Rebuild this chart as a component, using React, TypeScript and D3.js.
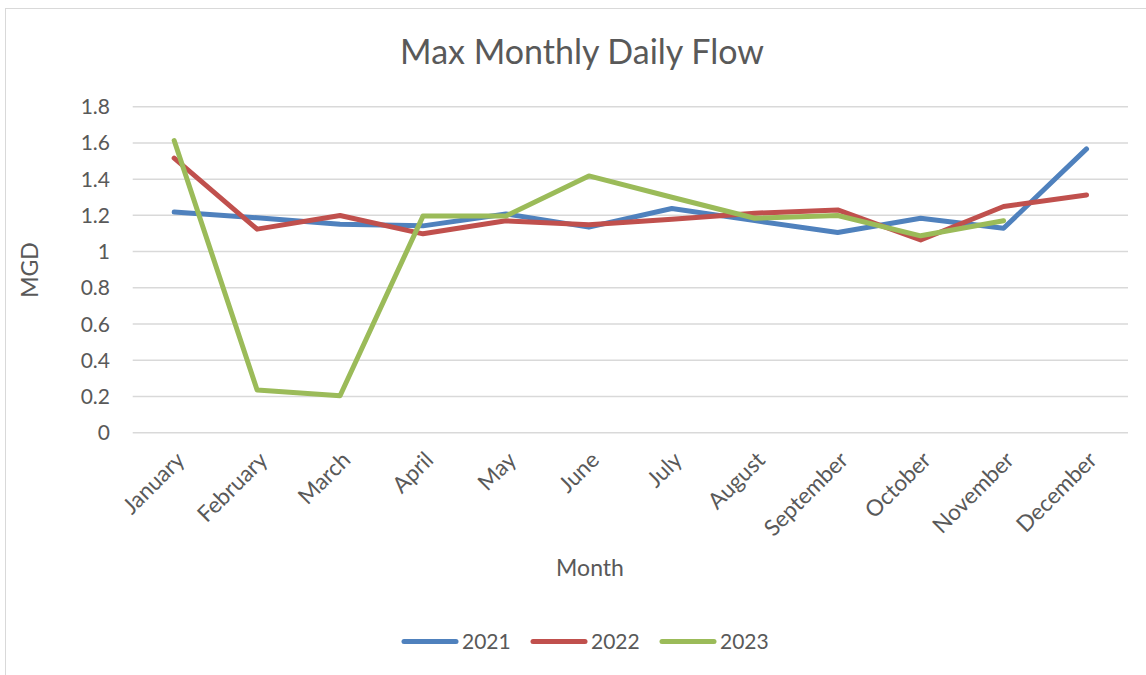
import React, { useEffect, useRef } from "react";
import * as d3 from "d3";

const months = ["January", "February", "March", "April", "May", "June", "July", "August", "September", "October", "November", "December"];
const flow2021 = [1.218, 1.187, 1.151, 1.142, 1.208, 1.135, 1.238, 1.171, 1.105, 1.184, 1.129, 1.567];
const flow2022 = [1.516, 1.124, 1.199, 1.098, 1.170, 1.148, 1.179, 1.212, 1.230, 1.064, 1.249, 1.313];
const flow2023: (number | null)[] = [1.613, 0.236, 0.204, 1.196, 1.197, 1.418, 1.300, 1.184, 1.199, 1.087, 1.170, null];
const yTicks = [0, 0.2, 0.4, 0.6, 0.8, 1, 1.2, 1.4, 1.6, 1.8];
const seriesNames = ["2021", "2022", "2023"];
const seriesColors = ["#4F81BD", "#C0504D", "#9BBB59"];

const W = 1146;
const H = 675;
const FONT = "Lato, 'Open Sans', sans-serif";
const TXT = "#595959";

export default function App() {
  const ref = useRef<SVGSVGElement>(null);
  useEffect(() => {
    const svg = d3.select(ref.current);
    svg.selectAll("*").remove();

    const left = 132.7, right = 1128, top = 106.7, bottom = 432.7;
    const x = d3.scaleBand<string>().domain(months).range([left, right]);
    const y = d3.scaleLinear().domain([0, 1.8]).range([bottom, top]);

    svg.append("rect").attr("x", 0).attr("y", 0).attr("width", W).attr("height", H).attr("fill", "#fff");
    svg.append("rect").attr("x", 5.5).attr("y", 8.5).attr("width", W + 10).attr("height", H + 10)
      .attr("fill", "none").attr("stroke", "#d9d9d9").attr("stroke-width", 1);

    svg.append("text").attr("x", 582).attr("y", 64).attr("text-anchor", "middle")
      .attr("font-family", FONT).attr("font-size", 34).attr("fill", TXT).text("Max Monthly Daily Flow");

    const g = svg.append("g");
    g.selectAll("line.grid").data(yTicks).join("line").attr("class", "grid")
      .attr("x1", left).attr("x2", right).attr("y1", d => y(d)).attr("y2", d => y(d))
      .attr("stroke", "#d9d9d9").attr("stroke-width", 1.5);

    g.selectAll("text.ytick").data(yTicks).join("text").attr("class", "ytick")
      .attr("x", 110).attr("y", d => y(d)).attr("dy", "0.36em").attr("text-anchor", "end")
      .attr("font-family", FONT).attr("font-size", 21).attr("fill", TXT).text(d => String(d));

    g.selectAll("text.xtick").data(months).join("text").attr("class", "xtick")
      .attr("transform", d => `translate(${(x(d) as number) + x.bandwidth() / 2 + 6},${bottom + 23}) rotate(-45)`)
      .attr("text-anchor", "end").attr("dy", "0.36em")
      .attr("font-family", FONT).attr("font-size", 22.5).attr("fill", TXT).text(d => d);

    svg.append("text").attr("transform", `translate(38,270) rotate(-90)`).attr("text-anchor", "middle")
      .attr("font-family", FONT).attr("font-size", 23).attr("fill", TXT).text("MGD");
    svg.append("text").attr("x", 590).attr("y", 576).attr("text-anchor", "middle")
      .attr("font-family", FONT).attr("font-size", 23).attr("fill", TXT).text("Month");

    const allSeries = [flow2021, flow2022, flow2023];
    const line = d3.line<number | null>()
      .defined(d => d !== null)
      .x((_, i) => (x(months[i]) as number) + x.bandwidth() / 2)
      .y(d => y(d as number));
    allSeries.forEach((s, i) => {
      g.append("path").datum(s).attr("d", line).attr("fill", "none")
        .attr("stroke", seriesColors[i]).attr("stroke-width", 5)
        .attr("stroke-linejoin", "round").attr("stroke-linecap", "round");
    });

    const legendX = [402, 531, 660];
    seriesNames.forEach((n, i) => {
      svg.append("line").attr("x1", legendX[i] + 2).attr("x2", legendX[i] + 54).attr("y1", 641.5).attr("y2", 641.5)
        .attr("stroke", seriesColors[i]).attr("stroke-width", 5).attr("stroke-linecap", "round");
      svg.append("text").attr("x", legendX[i] + 60).attr("y", 641.5).attr("dy", "0.36em")
        .attr("font-family", FONT).attr("font-size", 21).attr("fill", TXT).text(n);
    });
  }, []);
  return (
    <svg ref={ref} width={W} height={H} style={{ position: "absolute", left: 0, top: 0 }} />
  );
}
